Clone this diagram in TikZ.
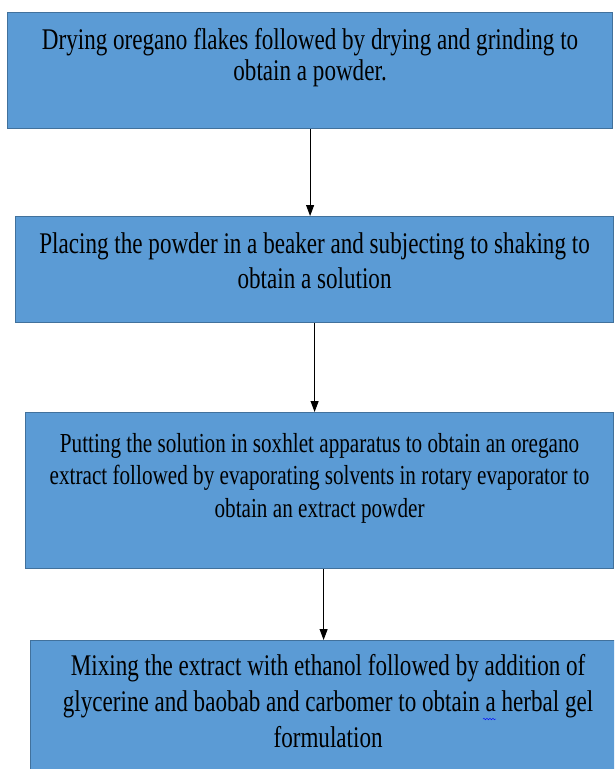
\documentclass[tikz,border=0pt]{standalone}
\usepackage{fontspec}
\setmainfont{Liberation Serif}[FakeStretch=0.77]
\usepackage{xcolor}
\usetikzlibrary{arrows.meta, positioning, calc}
\usetikzlibrary{decorations.pathmorphing}

\definecolor{boxblue}{HTML}{5B9BD5}
\definecolor{boxedge}{HTML}{41719C}

\begin{document}
\begin{tikzpicture}[x=1pt, y=-1pt,
  stepbox/.style={draw=boxedge, fill=boxblue, line width=1.2pt, anchor=north west, inner sep=0pt},
  steptext/.style={anchor=north, align=center, inner sep=0pt, font=\fontsize{30}{33}\selectfont},
  flow/.style={-{Triangle[width=8pt,length=11pt]}, line width=1pt}]

  \useasboundingbox (0,0) rectangle (614,769);
  \clip (0,0) rectangle (614,769);

  % --- Boxes ---
  \node[stepbox, minimum width=605, minimum height=116] (s1) at (7,12) {};
  \node[stepbox, minimum width=598, minimum height=106] (s2) at (15,216) {};
  \node[stepbox, minimum width=588, minimum height=156] (s3) at (25,412) {};
  \node[stepbox, minimum width=595, minimum height=160] (s4) at (30,640) {};

  % --- Texts ---
  \node[steptext, font=\fontsize{30}{31}\selectfont] (t1) at ([yshift=-16.5pt]s1.north)
    {Drying oregano flakes followed by drying and grinding to\\obtain a powder.};
  \node[steptext, font=\fontsize{30}{35}\selectfont] (t2) at ([yshift=-16.5pt]s2.north)
    {Placing the powder in a beaker and subjecting to shaking to\\obtain a solution};
  \node[steptext, font=\fontsize{27.5}{32.5}\selectfont] (t3) at ([yshift=-21pt]s3.north)
    {Putting the solution in soxhlet apparatus to obtain an oregano\\
     extract followed by evaporating solvents in rotary evaporator to\\
     obtain an extract powder};
  \node[steptext, font=\fontsize{30}{36}\selectfont] (t4) at ([yshift=-14.5pt]s4.north)
    {Mixing the extract with ethanol followed by addition of\\
     glycerine and baobab and carbomer to obtain a herbal gel\\
     formulation};

  % spell check mark
  \draw[blue, decorate, decoration={snake, amplitude=0.8pt, segment length=3pt}]
    (483,719) -- (496,719);

  % --- Arrows ---
  \draw[flow] (s1.south) -- (s1.south |- s2.north);
  \draw[flow] (s2.south) -- (s2.south |- s3.north);
  \draw[flow] ([xshift=4pt]s3.south) -- ([xshift=4pt]s3.south |- s4.north);

\end{tikzpicture}
\end{document}
